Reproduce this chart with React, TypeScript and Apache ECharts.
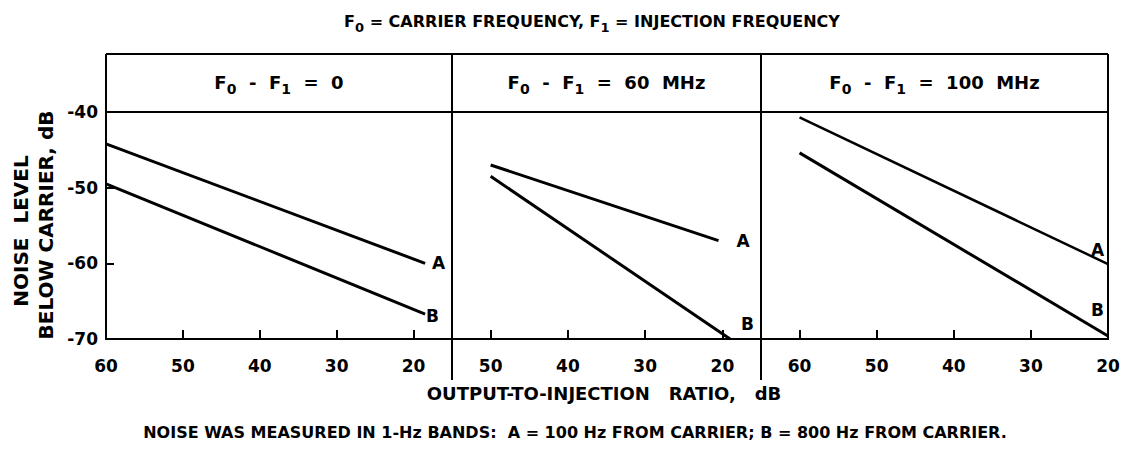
import React, { useEffect, useRef } from "react";
import * as echarts from "echarts";

// ---- data ----
const panelLabels = ["0", "60 MHz", "100 MHz"];
const xMins = [15, 15, 20];
const xMaxs = [60, 55, 65];
const xTickValues = [
  [60, 50, 40, 30, 20],
  [50, 40, 30, 20],
  [60, 50, 40, 30, 20],
];
const yTickValues = [-40, -50, -60, -70];
const yMin = -70;
const yMax = -40;
const seriesNames = ["A", "B"];
const curveA = [
  [[60, -44.2], [18.5, -60.0]],
  [[50, -47.0], [20.5, -57.0]],
  [[60, -40.7], [20, -60.1]],
];
const curveB = [
  [[60, -49.5], [18.5, -66.7]],
  [[50, -48.5], [19, -70.0]],
  [[60, -45.4], [20, -69.6]],
];
const titleText = "{m|F}{s|0}{m| = CARRIER FREQUENCY, F}{s|1}{m| = INJECTION FREQUENCY}";
const xAxisName = "OUTPUT-TO-INJECTION   RATIO,   dB";
const yAxisName1 = "NOISE  LEVEL";
const yAxisName2 = "BELOW CARRIER, dB";
const footerText =
  "NOISE WAS MEASURED IN 1-Hz BANDS:  A = 100 Hz FROM CARRIER; B = 800 Hz FROM CARRIER.";

// ---- layout / style ----
const FONT = "DejaVu Sans";
const gridLefts = [106, 452, 761];
const gridWidths = [346, 309, 347];
const gridTop = 112;
const gridHeight = 227;
const labelOffsets = {
  A: [[2, 0], [13, 0], [-22, -14]],
  B: [[-4, 2], [6, -15], [-22, -26]],
};

function buildOption() {
  const grids = gridLefts.map((left, i) => ({
    left,
    top: gridTop,
    width: gridWidths[i],
    height: gridHeight,
    show: true,
    borderColor: "#000",
    borderWidth: 2,
    backgroundColor: "transparent",
  }));

  const xAxes = gridLefts.map((_, i) => ({
    type: "value",
    gridIndex: i,
    min: xMins[i],
    max: xMaxs[i],
    inverse: true,
    axisLine: { show: false },
    splitLine: { show: false },
    axisTick: {
      show: true,
      inside: true,
      length: 9,
      customValues: xTickValues[i],
      lineStyle: { color: "#000", width: 2 },
    },
    axisLabel: {
      show: true,
      customValues: xTickValues[i],
      margin: 18,
      color: "#000",
      fontFamily: FONT,
      fontWeight: "bold",
      fontSize: 17,
      hideOverlap: false,
      showMinLabel: true,
      showMaxLabel: true,
    },
  }));

  const yAxes = gridLefts.map((_, i) => ({
    type: "value",
    gridIndex: i,
    min: yMin,
    max: yMax,
    interval: 10,
    axisLine: { show: false },
    splitLine: { show: false },
    axisTick: {
      show: i === 0,
      inside: true,
      length: 8,
      lineStyle: { color: "#000", width: 2 },
    },
    axisLabel: {
      show: i === 0,
      customValues: yTickValues,
      margin: 8,
      color: "#000",
      fontFamily: FONT,
      fontWeight: "bold",
      fontSize: 17,
    },
  }));

  const series: any[] = [];
  [curveA, curveB].forEach((curves, si) => {
    const name = seriesNames[si];
    curves.forEach((pts, i) => {
      const off = (labelOffsets as any)[name][i];
      series.push({
        type: "line",
        name: name + (i + 1),
        xAxisIndex: i,
        yAxisIndex: i,
        clip: false,
        symbol: "circle",
        symbolSize: 0,
        showSymbol: true,
        lineStyle: { color: "#000", width: i === 2 && si === 0 ? 2.5 : 3 },
        itemStyle: { color: "#000" },
        data: pts.map((p, k) =>
          k === pts.length - 1
            ? {
                value: p,
                label: {
                  show: true,
                  formatter: name,
                  position: "right",
                  distance: 5,
                  offset: off,
                  color: "#000",
                  fontFamily: FONT,
                  fontWeight: "bold",
                  fontSize: 17,
                },
              }
            : { value: p }
        ),
      });
    });
  });

  const mkRich = (size: number, subSize: number, pad: number) => ({
    m: { fontFamily: FONT, fontWeight: "bold", fontSize: size, fill: "#000", color: "#000" },
    s: {
      fontFamily: FONT,
      fontWeight: "bold",
      fontSize: subSize,
      fill: "#000",
      color: "#000",
      padding: [pad, 0, 0, 0],
    },
  });

  const vline = (x: number, y1: number, y2: number) => ({
    type: "line",
    shape: { x1: x, y1, x2: x, y2 },
    style: { stroke: "#000", lineWidth: 2 },
    z: 10,
  });

  const headerTexts = panelLabels.map((lab, i) => ({
    type: "text",
    x: gridLefts[i] + gridWidths[i] / 2,
    y: 82,
    style: {
      text: "{m|F}{s|0}{m|  -  F}{s|1}{m|  =  " + lab.replace(" ", "  ") + "}",
      rich: mkRich(18, 14, 14),
      align: "center",
      verticalAlign: "middle",
    },
  }));

  const graphic: any[] = [
    {
      type: "text",
      x: 592,
      y: 21,
      style: {
        text: titleText,
        rich: mkRich(16, 13, 13),
        align: "center",
        verticalAlign: "middle",
      },
    },
    {
      type: "line",
      shape: { x1: 106, y1: 54, x2: 1108, y2: 54 },
      style: { stroke: "#000", lineWidth: 2 },
    },
    vline(106, 54, 112),
    vline(1108, 54, 112),
    vline(452, 54, 380),
    vline(761, 54, 380),
    ...headerTexts,
    {
      type: "text",
      x: 21,
      y: 231,
      rotation: Math.PI / 2,
      style: {
        text: yAxisName1,
        fill: "#000",
        font: `bold 20px "${FONT}"`,
        align: "center",
        verticalAlign: "middle",
      },
    },
    {
      type: "text",
      x: 46,
      y: 225,
      rotation: Math.PI / 2,
      style: {
        text: yAxisName2,
        fill: "#000",
        font: `bold 20px "${FONT}"`,
        align: "center",
        verticalAlign: "middle",
      },
    },
    {
      type: "text",
      x: 604,
      y: 393,
      style: {
        text: xAxisName,
        fill: "#000",
        font: `bold 18px "${FONT}"`,
        align: "center",
        verticalAlign: "middle",
      },
    },
    {
      type: "text",
      x: 575,
      y: 432,
      style: {
        text: footerText,
        fill: "#000",
        font: `bold 16px "${FONT}"`,
        align: "center",
        verticalAlign: "middle",
      },
    },
  ];

  return {
    animation: false,
    backgroundColor: "#fff",
    grid: grids,
    xAxis: xAxes,
    yAxis: yAxes,
    series,
    graphic,
  };
}

export default function App() {
  const ref = useRef<HTMLDivElement>(null);
  useEffect(() => {
    document.body.style.margin = "0";
    if (!ref.current) return;
    const chart = echarts.init(ref.current, undefined, { renderer: "svg" });
    chart.setOption(buildOption() as any);
    return () => chart.dispose();
  }, []);
  return <div ref={ref} style={{ width: 1123, height: 451 }} />;
}
